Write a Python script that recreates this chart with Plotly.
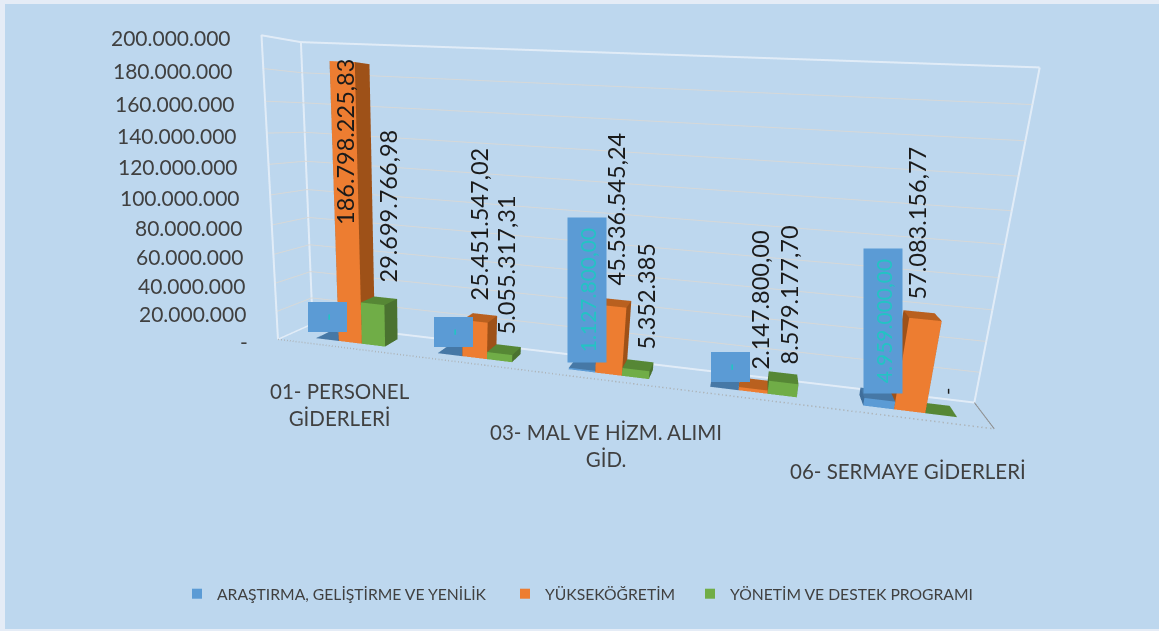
import plotly.graph_objects as go

W, H = 1159, 631
categories = ["01- PERSONEL<br>GİDERLERİ", "", "03- MAL VE HİZM. ALIMI<br>GİD.", "", "06- SERMAYE GİDERLERİ"]
arge = [0, 0, 1127800.00, 0, 4959000.00]
yuksek = [186798225.83, 25451547.02, 45536545.24, 2147800.00, 57083156.77]
yonetim = [29699766.98, 5055317.31, 5352385, 8579177.70, 0]
arge_labels = ["-", "-", "1.127.800,00", "-", "4.959.000,00"]
yuksek_labels = ["186.798.225,83", "25.451.547,02", "45.536.545,24", "2.147.800,00", "57.083.156,77"]
yonetim_labels = ["29.699.766,98", "5.055.317,31", "5.352.385", "8.579.177,70", "-"]
z_ticks = list(range(0, 200000001, 20000000))
z_labels = ["-", "20.000.000", "40.000.000", "60.000.000", "80.000.000", "100.000.000", "120.000.000", "140.000.000", "160.000.000", "180.000.000", "200.000.000"]
series_names = ["ARAŞTIRMA, GELİŞTİRME VE YENİLİK", "YÜKSEKÖĞRETİM", "YÖNETİM VE DESTEK PROGRAMI"]

# style / layout constants
eye = dict(x=0.412, y=-2.357, z=0.313)
cen = dict(x=-0.082, y=-0.1, z=-0.3)
up = dict(x=-0.449, y=1.71, z=1.0)
asp = dict(x=2.3, y=0.217, z=1.0)
shift, bw = 0.027, 0.192
y0f, y1f = 0.28, 0.72
zt = 200000000

fig = go.Figure()

def boxes(values, x_off, front, side, top):
    X, Y, Z, I, J, K, FC = [], [], [], [], [], [], []
    for n, v in enumerate(values):
        a = n + 0.5 + shift + x_off * bw - bw / 2
        b = a + bw
        m = len(X)
        for zz in (0, v):
            X += [a, b, b, a]
            Y += [y0f, y0f, y1f, y1f]
            Z += [zz] * 4
        faces = [(0, 1, 5, front), (0, 5, 4, front), (1, 2, 6, side), (1, 6, 5, side), (4, 5, 6, top), (4, 6, 7, top),
                 (0, 3, 7, side), (0, 7, 4, side), (3, 2, 6, side), (3, 6, 7, side)]
        for p, q, s, c in faces:
            I.append(m + p); J.append(m + q); K.append(m + s); FC.append(c)
    return go.Mesh3d(x=X, y=Y, z=Z, i=I, j=J, k=K, facecolor=FC, flatshading=True, hoverinfo="skip", showscale=False,
                     lighting=dict(ambient=1, diffuse=0, specular=0, roughness=1, fresnel=0))

fig.add_trace(boxes(arge, -1, "#5B9BD5", "#3F6E9B", "#4678A6"))
fig.add_trace(boxes(yuksek, 0, "#ED7D31", "#9E5118", "#B9601F"))
fig.add_trace(boxes(yonetim, 1, "#70AD47", "#4A7230", "#568735"))

def line(xs, ys, zs, color, width, dash="solid"):
    fig.add_trace(go.Scatter3d(x=xs, y=ys, z=zs, mode="lines", line=dict(color=color, width=width, dash=dash),
                               hoverinfo="skip", showlegend=False))

for zv in z_ticks[1:-1]:
    line([0, 0, 5], [0, 1, 1], [zv, zv, zv], "#D6D8D8", 2)
line([0, 0, 0, 0, 5, 5], [0, 0, 1, 1, 1, 1], [0, zt, zt, 0, 0, zt], "#E1ECF7", 4)
line([0, 5], [1, 1], [zt, zt], "#E1ECF7", 4)
line([0, 5], [0, 0], [0, 0], "#AEB6BC", 3, "dot")
line([0, 0], [0, 1], [0, 0], "#E1ECF7", 3)
line([5, 5], [0, 1], [0, 0], "#8C8C8C", 2)

ax_off = dict(showgrid=False, showticklabels=False, showline=False, zeroline=False, showbackground=False,
              title="", showspikes=False, ticks="")
tick_ann = [dict(x=0, y=0, z=v, text=s, showarrow=False, xanchor="right", yanchor="middle", xshift=-28, yshift=-2,
                 font=dict(size=21, color="#404040")) for v, s in zip(z_ticks, z_labels)]

fig.update_layout(
    width=W, height=H, margin=dict(l=0, r=0, t=0, b=0), paper_bgcolor="#D9D9D9", showlegend=True,
    font=dict(family="Lato", color="#404040"),
    xaxis=dict(visible=False), yaxis=dict(visible=False),
    shapes=[dict(type="rect", xref="paper", yref="paper", x0=5 / W, x1=1, y0=2 / H, y1=1 - 4 / H,
                 fillcolor="#BDD7EE", line=dict(width=0), layer="below")],
    scene=dict(domain=dict(x=[0, 1], y=[0, 1]), bgcolor="rgba(0,0,0,0)", aspectmode="manual", aspectratio=asp,
               camera=dict(eye=eye, center=cen, up=up, projection=dict(type="perspective")),
               xaxis=dict(range=[0, 5], **ax_off), yaxis=dict(range=[0, 1], **ax_off),
               zaxis=dict(range=[0, zt], **ax_off), annotations=tick_ann))

def A(px, py, text, **k):
    d = dict(xref="paper", yref="paper", x=px / W, y=1 - py / H, text=text, showarrow=False,
             xanchor="center", yanchor="middle")
    d.update(k)
    return d

ann = []
orange_pos = [(345, 227), (478, 303), (615, 288), (759, 372), (917, 302)]
green_pos = [(387, 285), (505, 337), (645, 352), (788, 367)]
blue_box = [(308, 302, 331), (434, 318, 347), (568, 218, 362), (711, 353, 382), (864, 249, 393)]
for (x, y), s in zip(orange_pos, yuksek_labels):
    ann.append(A(x, y, s, textangle=-90, yanchor="bottom", font=dict(size=23.5, color="#1A1A1A")))
for (x, y), s in zip(green_pos, yonetim_labels):
    ann.append(A(x, y, s, textangle=-90, yanchor="bottom", font=dict(size=23.5, color="#1A1A1A")))
ann.append(A(946, 392, yonetim_labels[4], textangle=-90, font=dict(size=20, color="#1A1A1A")))
for (x, t0, b), s in zip(blue_box, arge_labels):
    ann.append(A(x + 19, (t0 + b) / 2, s, textangle=-90, width=b - t0, height=38, bgcolor="#5B9BD5", borderpad=0,
                 font=dict(size=21, color="#22C4C4")))
cat_pos = [(340, 404), None, (606, 445), None, (908, 471)]
for c, p in zip(categories, cat_pos):
    if p:
        ann.append(A(p[0], p[1], c, font=dict(size=20.5, color="#404040")))
fig.update_layout(annotations=ann)

for idx, (nm, col, left) in enumerate(zip(series_names, ["#5B9BD5", "#ED7D31", "#70AD47"], [177, 505, 690])):
    key = "legend" if idx == 0 else f"legend{idx + 1}"
    fig.add_trace(go.Scatter(x=[None], y=[None], mode="markers", marker=dict(symbol="square", size=10, color=col),
                             name=nm, legend=key))
    fig.update_layout({key: dict(x=left / W, y=1 - 594 / H, xanchor="left", yanchor="middle", bgcolor="rgba(0,0,0,0)",
                                 font=dict(size=15.7, color="#404040"), itemclick=False)})

fig.write_html("out.html", post_script="document.body.style.margin=0;", config=dict(displayModeBar=False))
